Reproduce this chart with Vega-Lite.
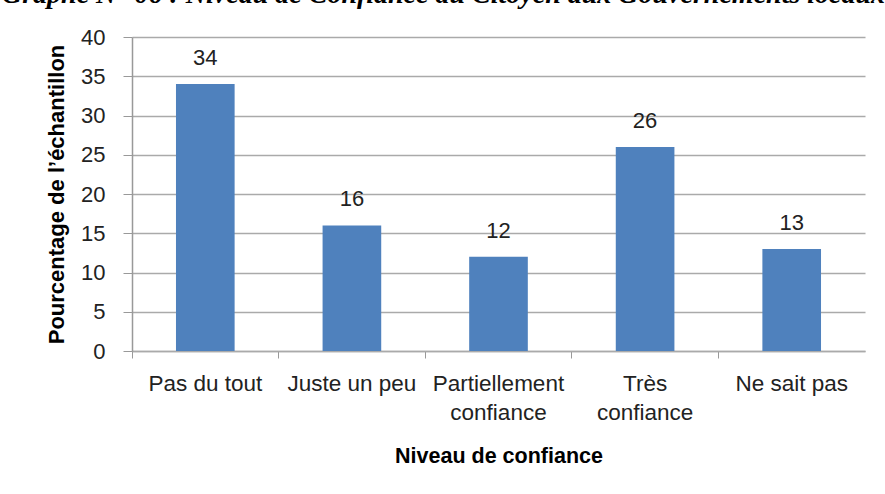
{
  "$schema": "https://vega.github.io/schema/vega-lite/v6.json",
  "autosize": "none",
  "width": 733,
  "height": 314,
  "padding": {"left": 132, "top": 37, "right": 20, "bottom": 143},
  "background": "white",
  "title": {
    "text": "Graphe N° 06 : Niveau de Confiance du Citoyen aux Gouvernements locaux",
    "anchor": "start",
    "frame": "group",
    "font": "Liberation Serif",
    "fontStyle": "italic",
    "fontWeight": "bold",
    "fontSize": 28,
    "color": "black",
    "dx": -130,
    "dy": -17,
    "offset": 0,
    "baseline": "top"
  },
  "data": {
    "values": [
      {"niveau": "Pas du tout", "pct": 34},
      {"niveau": "Juste un peu", "pct": 16},
      {"niveau": "Partiellement confiance", "pct": 12},
      {"niveau": "Très confiance", "pct": 26},
      {"niveau": "Ne sait pas", "pct": 13}
    ]
  },
  "encoding": {
    "x": {
      "field": "niveau",
      "type": "nominal",
      "sort": null,
      "scale": {"paddingInner": 0, "paddingOuter": 0},
      "axis": {
        "title": "Niveau de confiance",
        "titleFont": "Liberation Sans",
        "titleFontSize": 21.5,
        "titleFontWeight": "bold",
        "titleColor": "black",
        "titlePadding": 22,
        "labelAngle": 0,
        "labelFont": "Liberation Sans",
        "labelFontSize": 22.5,
        "labelColor": "#222222",
        "labelPadding": 14,
        "labelExpr": "datum.label == 'Partiellement confiance' ? ['Partiellement', 'confiance'] : datum.label == 'Très confiance' ? ['Très', 'confiance'] : datum.label",
        "labelLineHeight": 29,
        "bandPosition": 0,
        "tickSize": 7,
        "tickColor": "#999999",
        "domainColor": "#aaaaaa",
        "domainWidth": 1.5,
        "grid": false
      }
    },
    "y": {
      "field": "pct",
      "type": "quantitative",
      "scale": {"domain": [0, 40], "nice": false},
      "axis": {
        "title": "Pourcentage de l’échantillon",
        "titleFont": "Liberation Sans",
        "titleFontSize": 22,
        "titleFontWeight": "bold",
        "titleColor": "black",
        "titlePadding": 12,
        "tickCount": 9,
        "tickMinStep": 5,
        "labelOverlap": false,
        "labelFont": "Liberation Sans",
        "labelFontSize": 22,
        "labelColor": "#222222",
        "labelPadding": 18,
        "tickSize": 9,
        "tickColor": "#999999",
        "domainColor": "#999999",
        "domainWidth": 1.5,
        "gridColor": "#aaaaaa",
        "gridWidth": 1.5
      }
    }
  },
  "layer": [
    {
      "mark": {"type": "bar", "color": "#4F81BD", "width": {"band": 0.4}}
    },
    {
      "mark": {
        "type": "text",
        "font": "Liberation Sans",
        "fontSize": 22,
        "color": "#222222",
        "baseline": "alphabetic",
        "dy": -19
      },
      "encoding": {
        "text": {"field": "pct", "type": "quantitative"}
      }
    }
  ],
  "config": {"view": {"stroke": null}, "axisY": {"tickCount": 9}}
}
